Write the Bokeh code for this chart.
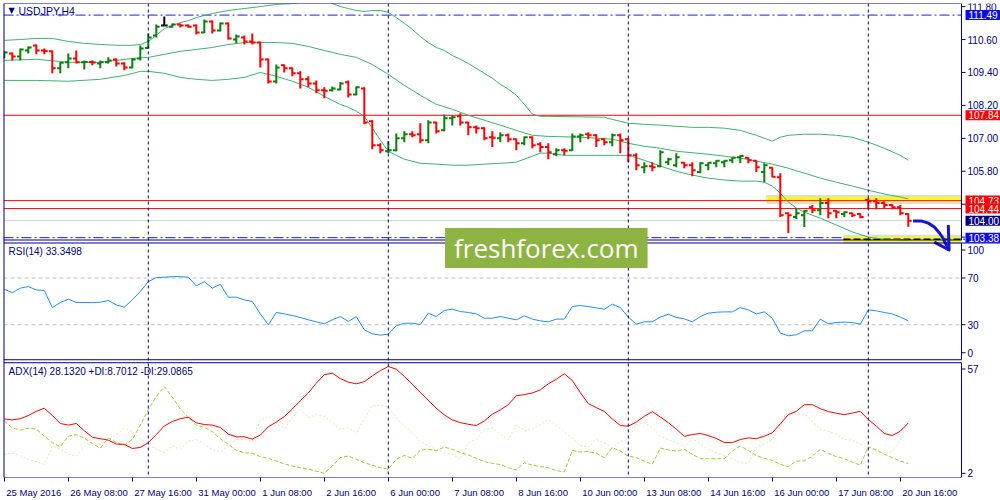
from bokeh.plotting import figure
from bokeh.models import ColumnDataSource, Range1d, FixedTicker, Label, Span
from bokeh.embed import file_html
from bokeh.resources import INLINE
from bokeh.core.properties import value

# ---------------- data ----------------
date_ticks = [0, 8, 16, 24, 32, 40, 48, 56, 64, 72, 80, 88, 96, 104, 112]
date_labels = ["25 May 2016", "26 May 08:00", "27 May 16:00", "31 May 00:00",
               "1 Jun 08:00", "2 Jun 16:00", "6 Jun 00:00", "7 Jun 08:00",
               "8 Jun 16:00", "10 Jun 00:00", "13 Jun 08:00", "14 Jun 16:00",
               "16 Jun 00:00", "17 Jun 08:00", "20 Jun 16:00"]
week_starts = [18, 48, 78, 108]
price_ticks = [103.4, 104.6, 105.8, 107.0, 108.2, 109.4, 110.6, 111.8]
rsi_ticks = [6, 30, 70, 94]
rsi_tick_labels = ["0", "30", "70", "100"]
rsi_levels = [30, 70]
adx_ticks = [4, 54]
adx_tick_labels = ["2", "57"]

open_ = [109.95, 110.09, 109.98, 110.20, 110.38, 110.20, 110.17, 109.55, 109.77, 109.91,
         109.77, 109.78, 109.73, 109.77, 109.87, 109.73, 109.58, 109.91, 110.29, 110.75,
         111.11, 111.07, 111.15, 111.11, 111.11, 110.86, 111.26, 110.93, 111.18, 110.60,
         110.67, 110.53, 110.49, 109.87, 109.07, 109.66, 109.55, 109.37, 109.15, 109.00,
         108.75, 108.75, 108.78, 109.04, 108.60, 108.82, 107.62, 106.75, 106.53, 106.57,
         107.00, 107.15, 107.15, 106.93, 107.58, 107.29, 107.73, 107.80, 107.58, 107.40,
         107.37, 107.04, 107.00, 107.11, 106.97, 106.82, 107.04, 106.78, 106.68, 106.42,
         106.57, 106.57, 107.07, 107.15, 107.11, 106.97, 106.86, 107.11, 106.97, 106.38,
         105.95, 105.98, 105.98, 106.13, 106.02, 106.11, 106.02, 105.77, 106.02, 106.09,
         106.13, 106.20, 106.31, 106.29, 106.18, 105.77, 105.93, 105.58, 104.27, 104.13,
         104.20, 104.49, 104.38, 104.64, 104.36, 104.24, 104.27, 104.24, 104.75, 104.71,
         104.64, 104.57, 104.49, 104.24]
high = [110.17, 110.13, 110.27, 110.35, 110.42, 110.27, 110.20, 109.77, 110.09, 110.20,
        109.84, 109.84, 109.84, 109.95, 109.91, 109.77, 109.91, 110.38, 110.82, 111.15,
        111.44, 111.18, 111.18, 111.15, 111.15, 111.33, 111.29, 111.22, 111.22, 110.78,
        110.75, 110.82, 110.53, 109.91, 109.69, 109.69, 109.58, 109.44, 109.26, 109.11,
        108.86, 108.89, 109.04, 109.11, 108.89, 108.86, 107.66, 106.82, 106.89, 107.18,
        107.26, 107.26, 107.55, 107.66, 107.60, 107.87, 107.84, 107.91, 107.60, 107.47,
        107.40, 107.26, 107.22, 107.18, 106.99, 107.07, 107.07, 106.86, 106.82, 106.64,
        106.64, 107.18, 107.18, 107.22, 107.15, 107.00, 107.18, 107.18, 107.00, 106.46,
        106.13, 106.13, 106.57, 106.29, 106.46, 106.13, 106.13, 106.13, 106.13, 106.20,
        106.20, 106.31, 106.38, 106.31, 106.20, 106.09, 105.95, 105.73, 104.31, 104.46,
        104.38, 104.57, 104.82, 104.82, 104.38, 104.33, 104.29, 104.27, 104.82, 104.82,
        104.71, 104.60, 104.57, 104.27]
low = [109.93, 109.84, 109.84, 110.09, 110.06, 110.06, 109.37, 109.37, 109.55, 109.73,
       109.51, 109.66, 109.55, 109.73, 109.62, 109.48, 109.55, 109.84, 110.27, 110.67,
       111.11, 111.04, 111.04, 111.04, 110.78, 110.84, 110.82, 110.89, 110.60, 110.46,
       110.42, 110.42, 109.58, 109.00, 109.00, 109.40, 109.26, 108.82, 108.86, 108.64,
       108.46, 108.71, 108.75, 108.49, 108.57, 107.51, 106.60, 106.46, 106.46, 106.53,
       106.86, 107.04, 106.82, 106.82, 107.18, 107.26, 107.47, 107.47, 107.11, 107.18,
       106.93, 106.68, 106.86, 106.86, 106.57, 106.75, 106.64, 106.49, 106.24, 106.35,
       106.38, 106.55, 106.86, 106.97, 106.68, 106.75, 106.71, 106.46, 106.13, 105.84,
       105.73, 105.80, 105.95, 106.02, 105.95, 105.91, 105.62, 105.73, 105.84, 105.95,
       105.95, 106.09, 106.09, 106.09, 105.77, 105.40, 105.58, 104.13, 103.55, 104.06,
       103.77, 104.27, 104.20, 104.09, 104.09, 104.13, 104.13, 104.09, 104.46, 104.42,
       104.46, 104.42, 104.20, 103.78]
close = [110.13, 109.98, 110.24, 110.31, 110.20, 110.18, 109.55, 109.75, 109.91, 109.77,
         109.78, 109.76, 109.77, 109.84, 109.73, 109.58, 109.87, 110.27, 110.67, 111.07,
         111.11, 111.15, 111.11, 111.07, 110.86, 111.26, 110.93, 111.18, 110.64, 110.71,
         110.53, 110.49, 109.87, 109.07, 109.58, 109.55, 109.37, 109.15, 109.00, 108.75,
         108.73, 108.82, 109.00, 108.60, 108.86, 107.58, 106.75, 106.57, 106.57, 107.00,
         107.15, 107.11, 106.93, 107.58, 107.26, 107.73, 107.77, 107.58, 107.40, 107.37,
         107.00, 107.02, 107.11, 106.97, 106.82, 107.04, 106.75, 106.68, 106.49, 106.57,
         106.55, 107.07, 107.11, 107.11, 106.93, 106.86, 107.11, 106.93, 106.38, 106.02,
         105.98, 105.95, 106.49, 106.24, 106.31, 106.02, 105.84, 106.09, 106.11, 106.18,
         106.18, 106.29, 106.36, 106.20, 105.95, 106.02, 105.60, 104.20, 104.20, 104.27,
         104.36, 104.38, 104.64, 104.27, 104.31, 104.31, 104.20, 104.13, 104.71, 104.64,
         104.57, 104.49, 104.27, 104.00]

bb_up_x = [0, 2, 4, 6, 8, 10, 12, 14, 16, 17, 18, 19, 20, 21, 22, 23, 24, 26, 28, 30, 32, 34,
           36, 38, 40, 41, 42, 43, 44, 45, 46, 47, 48, 49, 50, 51, 52, 53, 54, 55, 56, 57, 58,
           59, 60, 61, 62, 63, 64, 65, 66, 67, 68, 75, 76, 77, 78, 80, 82, 84, 86, 88, 90, 92,
           94, 96, 97, 98, 100, 102, 104, 106, 108, 110, 112, 113]
bb_up = [110.57, 110.60, 110.64, 110.64, 110.53, 110.46, 110.42, 110.39, 110.39, 110.42,
         110.53, 110.75, 111.00, 111.11, 111.22, 111.29, 111.40, 111.55, 111.66, 111.73,
         111.80, 111.88, 111.91, 111.99, 112.09, 111.91, 111.80, 111.73, 111.66, 111.62,
         111.66, 111.66, 111.59, 111.40, 111.19, 110.97, 110.71, 110.49, 110.31, 110.20,
         110.02, 109.88, 109.73, 109.55, 109.37, 109.19, 108.97, 108.79, 108.57, 108.24,
         107.88, 107.80, 107.80, 107.77, 107.69, 107.62, 107.55, 107.51, 107.48, 107.44,
         107.40, 107.40, 107.37, 107.29, 107.11, 106.90, 107.04, 107.11, 107.15, 107.15,
         107.11, 107.04, 106.86, 106.64, 106.38, 106.20]
bb_mid_x = [0, 4, 8, 12, 16, 18, 20, 22, 24, 26, 28, 30, 32, 34, 36, 38, 40, 41, 42, 44, 46,
            48, 50, 52, 54, 56, 58, 60, 62, 64, 66, 68, 72, 76, 78, 80, 82, 84, 88, 92, 96, 98,
            100, 102, 104, 106, 108, 110, 112, 113]
bb_mid = [109.84, 109.88, 109.77, 109.77, 109.91, 109.95, 110.06, 110.17, 110.24, 110.31,
          110.42, 110.49, 110.49, 110.49, 110.46, 110.35, 110.20, 110.13, 110.06, 109.95,
          109.69, 109.33, 108.93, 108.57, 108.24, 108.06, 107.84, 107.66, 107.48, 107.29,
          107.11, 107.07, 107.04, 106.97, 106.82, 106.71, 106.64, 106.53, 106.42, 106.28,
          106.06, 105.91, 105.73, 105.55, 105.40, 105.26, 105.11, 104.97, 104.86, 104.79]
bb_low_x = [0, 4, 8, 12, 15, 17, 18, 20, 22, 24, 26, 28, 30, 32, 34, 36, 38, 40, 41, 42, 43,
            44, 45, 46, 47, 48, 49, 50, 52, 54, 56, 58, 60, 62, 64, 66, 67, 68, 70, 74, 78, 80,
            82, 84, 86, 88, 90, 92, 94, 95, 96, 97, 98, 99, 100, 102, 104, 106, 108, 110, 112,
            113]
bb_low = [109.11, 109.11, 109.08, 109.15, 109.29, 109.44, 109.44, 109.37, 109.22, 109.15,
          109.11, 109.15, 109.22, 109.40, 109.26, 109.08, 108.86, 108.53, 108.38, 108.24,
          108.13, 107.99, 107.80, 107.37, 106.93, 106.53, 106.38, 106.24, 106.09, 106.06,
          106.02, 106.02, 106.06, 106.09, 106.13, 106.35, 106.46, 106.46, 106.38, 106.38,
          106.38, 106.20, 105.99, 105.80, 105.66, 105.55, 105.48, 105.44, 105.44, 105.40,
          105.26, 105.00, 104.68, 104.46, 104.31, 104.09, 103.84, 103.59, 103.40, 103.32,
          103.31, 103.30]

rsi = [60.4, 57.5, 61.3, 62.7, 59.8, 59.3, 44.7, 49.0, 51.9, 49.0,
       49.0, 48.9, 49.3, 50.7, 47.0, 45.0, 51.3, 58.4, 66.9, 70.4,
       70.7, 71.2, 71.2, 70.7, 63.2, 66.9, 61.3, 64.7, 53.6, 53.6,
       51.3, 49.9, 39.3, 29.9, 40.5, 39.3, 37.9, 36.2, 34.2, 32.5,
       30.8, 34.2, 37.0, 32.8, 37.0, 25.6, 22.2, 21.1, 21.9, 29.1,
       31.3, 31.3, 30.2, 39.9, 37.0, 42.2, 43.3, 41.3, 40.5, 39.3,
       35.6, 35.6, 37.0, 35.6, 34.2, 37.6, 34.8, 33.3, 32.5, 34.8,
       34.8, 45.6, 46.4, 45.6, 44.4, 43.3, 47.6, 44.7, 36.5, 30.5,
       32.5, 32.5, 36.5, 39.0, 36.2, 35.0, 32.5, 37.0, 39.9, 40.7,
       41.0, 41.0, 44.7, 42.7, 39.3, 41.0, 35.6, 22.8, 20.5, 21.4,
       24.8, 24.8, 34.8, 30.8, 31.9, 32.2, 31.9, 30.5, 42.7, 41.9,
       40.5, 39.3, 36.5, 33.35]
adx = [30.1, 29.6, 30.2, 31.7, 33.7, 35.2, 31.7, 27.9, 27.1, 27.9,
       24.4, 21.3, 20.6, 19.9, 18.0, 17.9, 15.9, 16.4, 18.7, 22.6,
       26.7, 28.8, 30.2, 30.9, 28.2, 27.4, 27.1, 26.0, 22.8, 21.5,
       21.5, 20.4, 22.3, 26.3, 28.6, 31.2, 34.8, 38.8, 42.5, 47.2,
       51.3, 52.0, 49.4, 47.7, 46.9, 47.9, 50.7, 53.2, 55.2, 53.9,
       50.4, 46.7, 42.7, 39.0, 35.2, 32.0, 29.6, 28.3, 27.5, 26.9,
       29.1, 32.3, 34.4, 36.9, 41.2, 41.7, 42.5, 44.0, 46.9, 49.1,
       51.7, 48.5, 42.7, 37.4, 35.5, 33.7, 30.1, 26.9, 26.6, 28.6,
       31.3, 33.6, 31.0, 28.3, 25.2, 21.7, 22.6, 23.1, 22.1, 20.7,
       18.8, 18.7, 20.2, 21.0, 20.6, 21.8, 23.4, 27.7, 32.1, 33.7,
       36.9, 36.9, 35.0, 33.6, 32.8, 32.1, 32.9, 33.7, 29.8, 26.6,
       23.1, 22.1, 24.2, 28.13]
plus_di = [29.0, 25.8, 24.7, 25.6, 25.2, 21.8, 18.7, 16.7, 21.8, 22.5,
           20.9, 18.3, 16.1, 20.9, 18.7, 17.4, 20.2, 27.1, 34.5, 40.9,
           45.6, 40.5, 34.8, 31.0, 27.1, 26.0, 24.0, 20.6, 17.9, 15.0,
           13.9, 13.6, 12.0, 11.2, 9.9, 8.5, 7.5, 6.7, 6.0, 5.0,
           4.0, 7.5, 11.5, 12.3, 10.7, 9.1, 7.9, 6.7, 6.0, 10.7,
           12.6, 11.2, 15.0, 15.5, 14.8, 16.6, 15.5, 14.0, 12.8, 11.2,
           9.6, 8.8, 8.2, 6.7, 5.6, 9.1, 7.9, 7.2, 6.7, 5.3,
           4.7, 15.0, 14.2, 14.5, 13.6, 11.5, 16.3, 14.7, 12.3, 11.5,
           9.9, 8.3, 16.1, 15.2, 14.7, 15.5, 13.1, 11.0, 11.0, 11.0,
           11.0, 14.7, 17.1, 15.0, 12.5, 11.2, 10.2, 8.3, 7.2, 9.9,
           9.9, 12.3, 15.5, 13.6, 12.0, 11.0, 9.4, 7.9, 16.7, 15.2,
           13.1, 11.5, 9.9, 8.70]
minus_di = [13.1, 13.7, 12.3, 10.7, 9.6, 8.3, 17.1, 15.5, 13.1, 12.3,
            16.7, 18.3, 17.9, 20.2, 22.6, 25.6, 23.9, 20.6, 17.9, 15.5,
            13.9, 17.1, 15.5, 19.3, 20.2, 17.9, 15.5, 14.2, 17.7, 20.2,
            20.2, 19.4, 29.4, 31.3, 28.2, 25.2, 31.0, 34.5, 30.6, 32.1,
            31.3, 28.2, 25.0, 25.8, 23.4, 30.1, 36.4, 36.7, 35.8, 30.6,
            26.6, 23.4, 19.4, 17.1, 15.5, 13.9, 13.1, 11.0, 18.7, 20.2,
            25.0, 25.8, 22.6, 20.2, 27.2, 24.4, 25.0, 27.4, 29.8, 27.1,
            23.9, 20.7, 17.5, 16.4, 20.2, 18.7, 16.4, 19.3, 20.2, 27.4,
            28.2, 25.8, 21.8, 20.2, 18.8, 16.4, 20.9, 18.0, 15.5, 13.9,
            12.6, 11.0, 9.1, 8.8, 16.7, 17.9, 20.2, 26.6, 34.5, 32.1,
            32.4, 29.0, 25.0, 24.2, 22.6, 20.2, 19.9, 18.0, 16.3, 14.7,
            13.1, 14.7, 19.9, 29.09]

level_prices = [111.49, 107.84, 104.73, 104.44, 104.00, 103.38]
level_texts = ["111.49", "107.84", "104.73", "104.44", "104.00", "103.38"]

# hand-drawn objects on the chart (bar index, price)
highlight_x0 = [95.25, 104.9]
highlight_price = [104.775, 103.32]
arrow_x = [113.6, 114.6, 115.5, 116.25, 116.9, 117.4, 117.75, 118.1]
arrow_price = [103.99, 103.99, 103.91, 103.77, 103.55, 103.33, 103.11, 102.93]
barb_x = [116.25, 118.1, 118.0]
barb_price = [103.22, 102.93, 103.84]

# ---------------- layout (pixel geometry of the three panes) ----------------
W, H = 1000, 500
FRAME_TOP, FRAME_BOTTOM = 3, 478           # px of the plotting frame
MAIN_PX = (3, 240)                          # price pane top / bottom
RSI_PX = (243, 360)
ADX_PX = (363, 478)
PRICE_TOP, PRICE_BOTTOM = 111.913, 103.295
RSI_TOP, RSI_BOTTOM = 100, 0
ADX_TOP, ADX_BOTTOM = 57, 2

PX_PER_BAR = 8.0
X_START = -0.1
X_AXIS = X_START + 958 / PX_PER_BAR      # x of the vertical value scales
X_END = X_START + 997 / PX_PER_BAR       # plot runs under the scale labels / price tags


def pane_range(v_top, v_bottom, px):
    scale = (px[1] - px[0]) / (v_top - v_bottom)
    return Range1d(v_bottom - (FRAME_BOTTOM - px[1]) / scale,
                   v_top + (px[0] - FRAME_TOP) / scale)


NAVY = "#000080"
FONT = "Liberation Sans"
BB_COLOR = "#3cb371"
ARROW_COLOR = "#1414d2"
level_colors = ["#1a1aff", "#ff0000", "#ff0000", "#ff0000", "#d3d3d3", "#1a1aff"]
level_dashes = ["10 3 2 3", "solid", "solid", "solid", "solid", "10 3 2 3"]
tag_colors = ["#0c0cf0", "#ff0000", "#ff0000", "#ff0000", "#000080", "#0c0cf0"]
date_label_widths = [54.9, 57.6, 57.6, 57.6, 49.6, 49.6, 49.6, 49.6, 49.6,
                     54.9, 54.9, 54.9, 54.9, 54.9, 54.9]
date_label_x = [round(t + (2 + w / 2) / PX_PER_BAR, 3)
                for t, w in zip(date_ticks, date_label_widths)]

p = figure(width=W, height=H, x_range=Range1d(X_START, X_END),
           y_range=pane_range(PRICE_TOP, PRICE_BOTTOM, MAIN_PX), title=None,
           toolbar_location=None, output_backend="svg", y_axis_location=None,
           min_border_left=3, min_border_right=0, min_border_top=FRAME_TOP,
           min_border_bottom=H - FRAME_BOTTOM)
p.extra_y_ranges = {"rsi": pane_range(RSI_TOP, RSI_BOTTOM, RSI_PX),
                    "adx": pane_range(ADX_TOP, ADX_BOTTOM, ADX_PX)}
p.grid.visible = False
p.outline_line_color = None
p.background_fill_color = "white"
p.border_fill_color = "white"

# date axis (labels start just right of their tick marks)
xa = p.xaxis[0]
xa.ticker = FixedTicker(ticks=date_label_x, minor_ticks=date_ticks)
xa.major_label_overrides = dict(zip(date_label_x, date_labels))
xa.axis_line_color = None
xa.major_tick_line_color = None
xa.major_tick_out = 0
xa.major_tick_in = 0
xa.minor_tick_line_color = NAVY
xa.minor_tick_out = 4
xa.minor_tick_in = 0
xa.major_label_standoff = 5
xa.major_label_text_color = NAVY
xa.major_label_text_font = FONT
xa.major_label_text_font_size = "9.5px"

# left border and week separators
p.add_layout(Span(location=X_START, dimension="height", line_color=NAVY, line_width=2))
for w in week_starts:
    p.add_layout(Span(location=w, dimension="height", line_color=NAVY,
                      line_dash="3 3", line_width=1))


def pane_frame(lo, hi, ticks, labels, rn, top_to_end=False):
    p.segment(x0=[X_START, X_START], y0=[lo, hi], x1=[X_AXIS, X_END if top_to_end else X_AXIS],
              y1=[lo, hi], line_color=NAVY, line_width=1, y_range_name=rn)
    p.segment(x0=[X_AXIS], y0=[lo], x1=[X_AXIS], y1=[hi], line_color=NAVY, line_width=1,
              y_range_name=rn)
    n = len(ticks)
    p.segment(x0=[X_AXIS] * n, y0=ticks, x1=[X_AXIS + 4 / PX_PER_BAR] * n, y1=ticks,
              line_color=NAVY, line_width=1, y_range_name=rn)
    p.text(x=[X_AXIS] * n, y=ticks, text=labels, x_offset=6, y_range_name=rn,
           text_font=value(FONT), text_font_size="10px", text_color=NAVY,
           text_align="left", text_baseline="middle")


def title_label(text, y, dy, rn, x_off=5, size="10px", font=FONT):
    p.add_layout(Label(x=X_START, y=y, x_offset=x_off, y_offset=dy, text=text,
                       y_range_name=rn, text_color=NAVY, text_font=font,
                       text_font_size=size, text_align="left", text_baseline="middle"))


# ---------------- price pane ----------------
for lp, lc, ld in zip(level_prices, level_colors, level_dashes):
    p.segment(x0=[X_START], y0=[lp], x1=[X_AXIS], y1=[lp], line_color=lc,
              line_dash=ld, line_width=1)

hl = ColumnDataSource(dict(x0=highlight_x0, x1=[X_AXIS] * len(highlight_x0),
                           y=highlight_price))
p.segment(x0="x0", y0="y", x1="x1", y1="y", source=hl, line_color="#9a9a9a",
          line_alpha=0.35, line_width=9)
p.segment(x0="x0", y0="y", x1="x1", y1="y", source=hl, line_color="#ffff00",
          line_width=5)
p.segment(x0=[highlight_x0[1]], y0=[highlight_price[1]], x1=[X_AXIS + 0.4],
          y1=[highlight_price[1]], line_color="black", line_dash="7 3", line_width=1.5)
p.segment(x0=[highlight_x0[0]], y0=[level_prices[2]], x1=[X_AXIS],
          y1=[level_prices[2]], line_color="#ff0000", line_width=1)

p.line(bb_up_x, bb_up, line_color=BB_COLOR, line_width=1)
p.line(bb_mid_x, bb_mid, line_color=BB_COLOR, line_width=1)
p.line(bb_low_x, bb_low, line_color=BB_COLOR, line_width=1)

idx = list(range(len(open_)))
cols = ["#0a800a" if c > o else ("#ff0000" if c < o else "black")
        for o, c in zip(open_, close)]
bars = ColumnDataSource(dict(x=idx, xl=[i - 0.42 for i in idx], xr=[i + 0.42 for i in idx],
                             o=open_, h=high, l=low, c=close, col=cols))
p.segment(x0="x", y0="l", x1="x", y1="h", line_color="col", line_width=2, source=bars)
p.segment(x0="xl", y0="o", x1="x", y1="o", line_color="col", line_width=2, source=bars)
p.segment(x0="x", y0="c", x1="xr", y1="c", line_color="col", line_width=2, source=bars)

pane_frame(PRICE_BOTTOM, PRICE_TOP, price_ticks, [f"{t:.2f}" for t in price_ticks], "default")

p.line(arrow_x, arrow_price, line_color=ARROW_COLOR, line_width=3, line_join="round")
p.line(barb_x, barb_price, line_color=ARROW_COLOR, line_width=3, line_join="round")

# ---------------- RSI pane ----------------
p.segment(x0=[X_START] * len(rsi_levels), y0=rsi_levels, x1=[X_AXIS] * len(rsi_levels),
          y1=rsi_levels, line_color="#c0c0c0", line_dash="4 3", line_width=1,
          y_range_name="rsi")
p.line(idx, rsi, line_color="#1e90ff", line_width=1, y_range_name="rsi")
pane_frame(RSI_BOTTOM, RSI_TOP, rsi_ticks, rsi_tick_labels, "rsi", top_to_end=True)

# ---------------- ADX pane ----------------
p.line(idx, minus_di, line_color="#f5deb3", line_dash="2 2", line_width=1, y_range_name="adx")
p.line(idx, plus_di, line_color="#9acd32", line_dash="4 2", line_width=1, y_range_name="adx")
p.line(idx, adx, line_color="#ff0000", line_width=1, y_range_name="adx")
pane_frame(ADX_BOTTOM, ADX_TOP, adx_ticks, adx_tick_labels, "adx")

# ---------------- texts on top ----------------
title_label("\u25bc", PRICE_TOP, -7, "default", x_off=5, size="8px", font="DejaVu Sans")
title_label("USDJPY,H4", PRICE_TOP, -7, "default", x_off=15, size="10.5px")
title_label("RSI(14) 33.3498", RSI_TOP, -9, "rsi")
title_label("ADX(14) 28.1320 +DI:8.7012 -DI:29.0865", ADX_TOP, -9, "adx")

for lp, lt, bg in zip(level_prices, level_texts, tag_colors):
    p.add_layout(Label(x=X_AXIS, y=lp, x_offset=4, text=lt, text_color="white",
                       text_font=FONT, text_font_size="10px", text_align="left",
                       text_baseline="middle", background_fill_color=bg,
                       padding=dict(left=3, right=5, top=1, bottom=1)))

p.add_layout(Label(x=67.75, y=PRICE_BOTTOM, y_offset=-8, text="freshforex.com",
                   text_color="white", text_font="Open Sans", text_font_size="26px",
                   text_align="center", text_baseline="middle",
                   background_fill_color="#8db443",
                   padding=dict(left=9, right=9, top=2, bottom=2)))

open("out.html", "w").write(file_html(p, INLINE))
